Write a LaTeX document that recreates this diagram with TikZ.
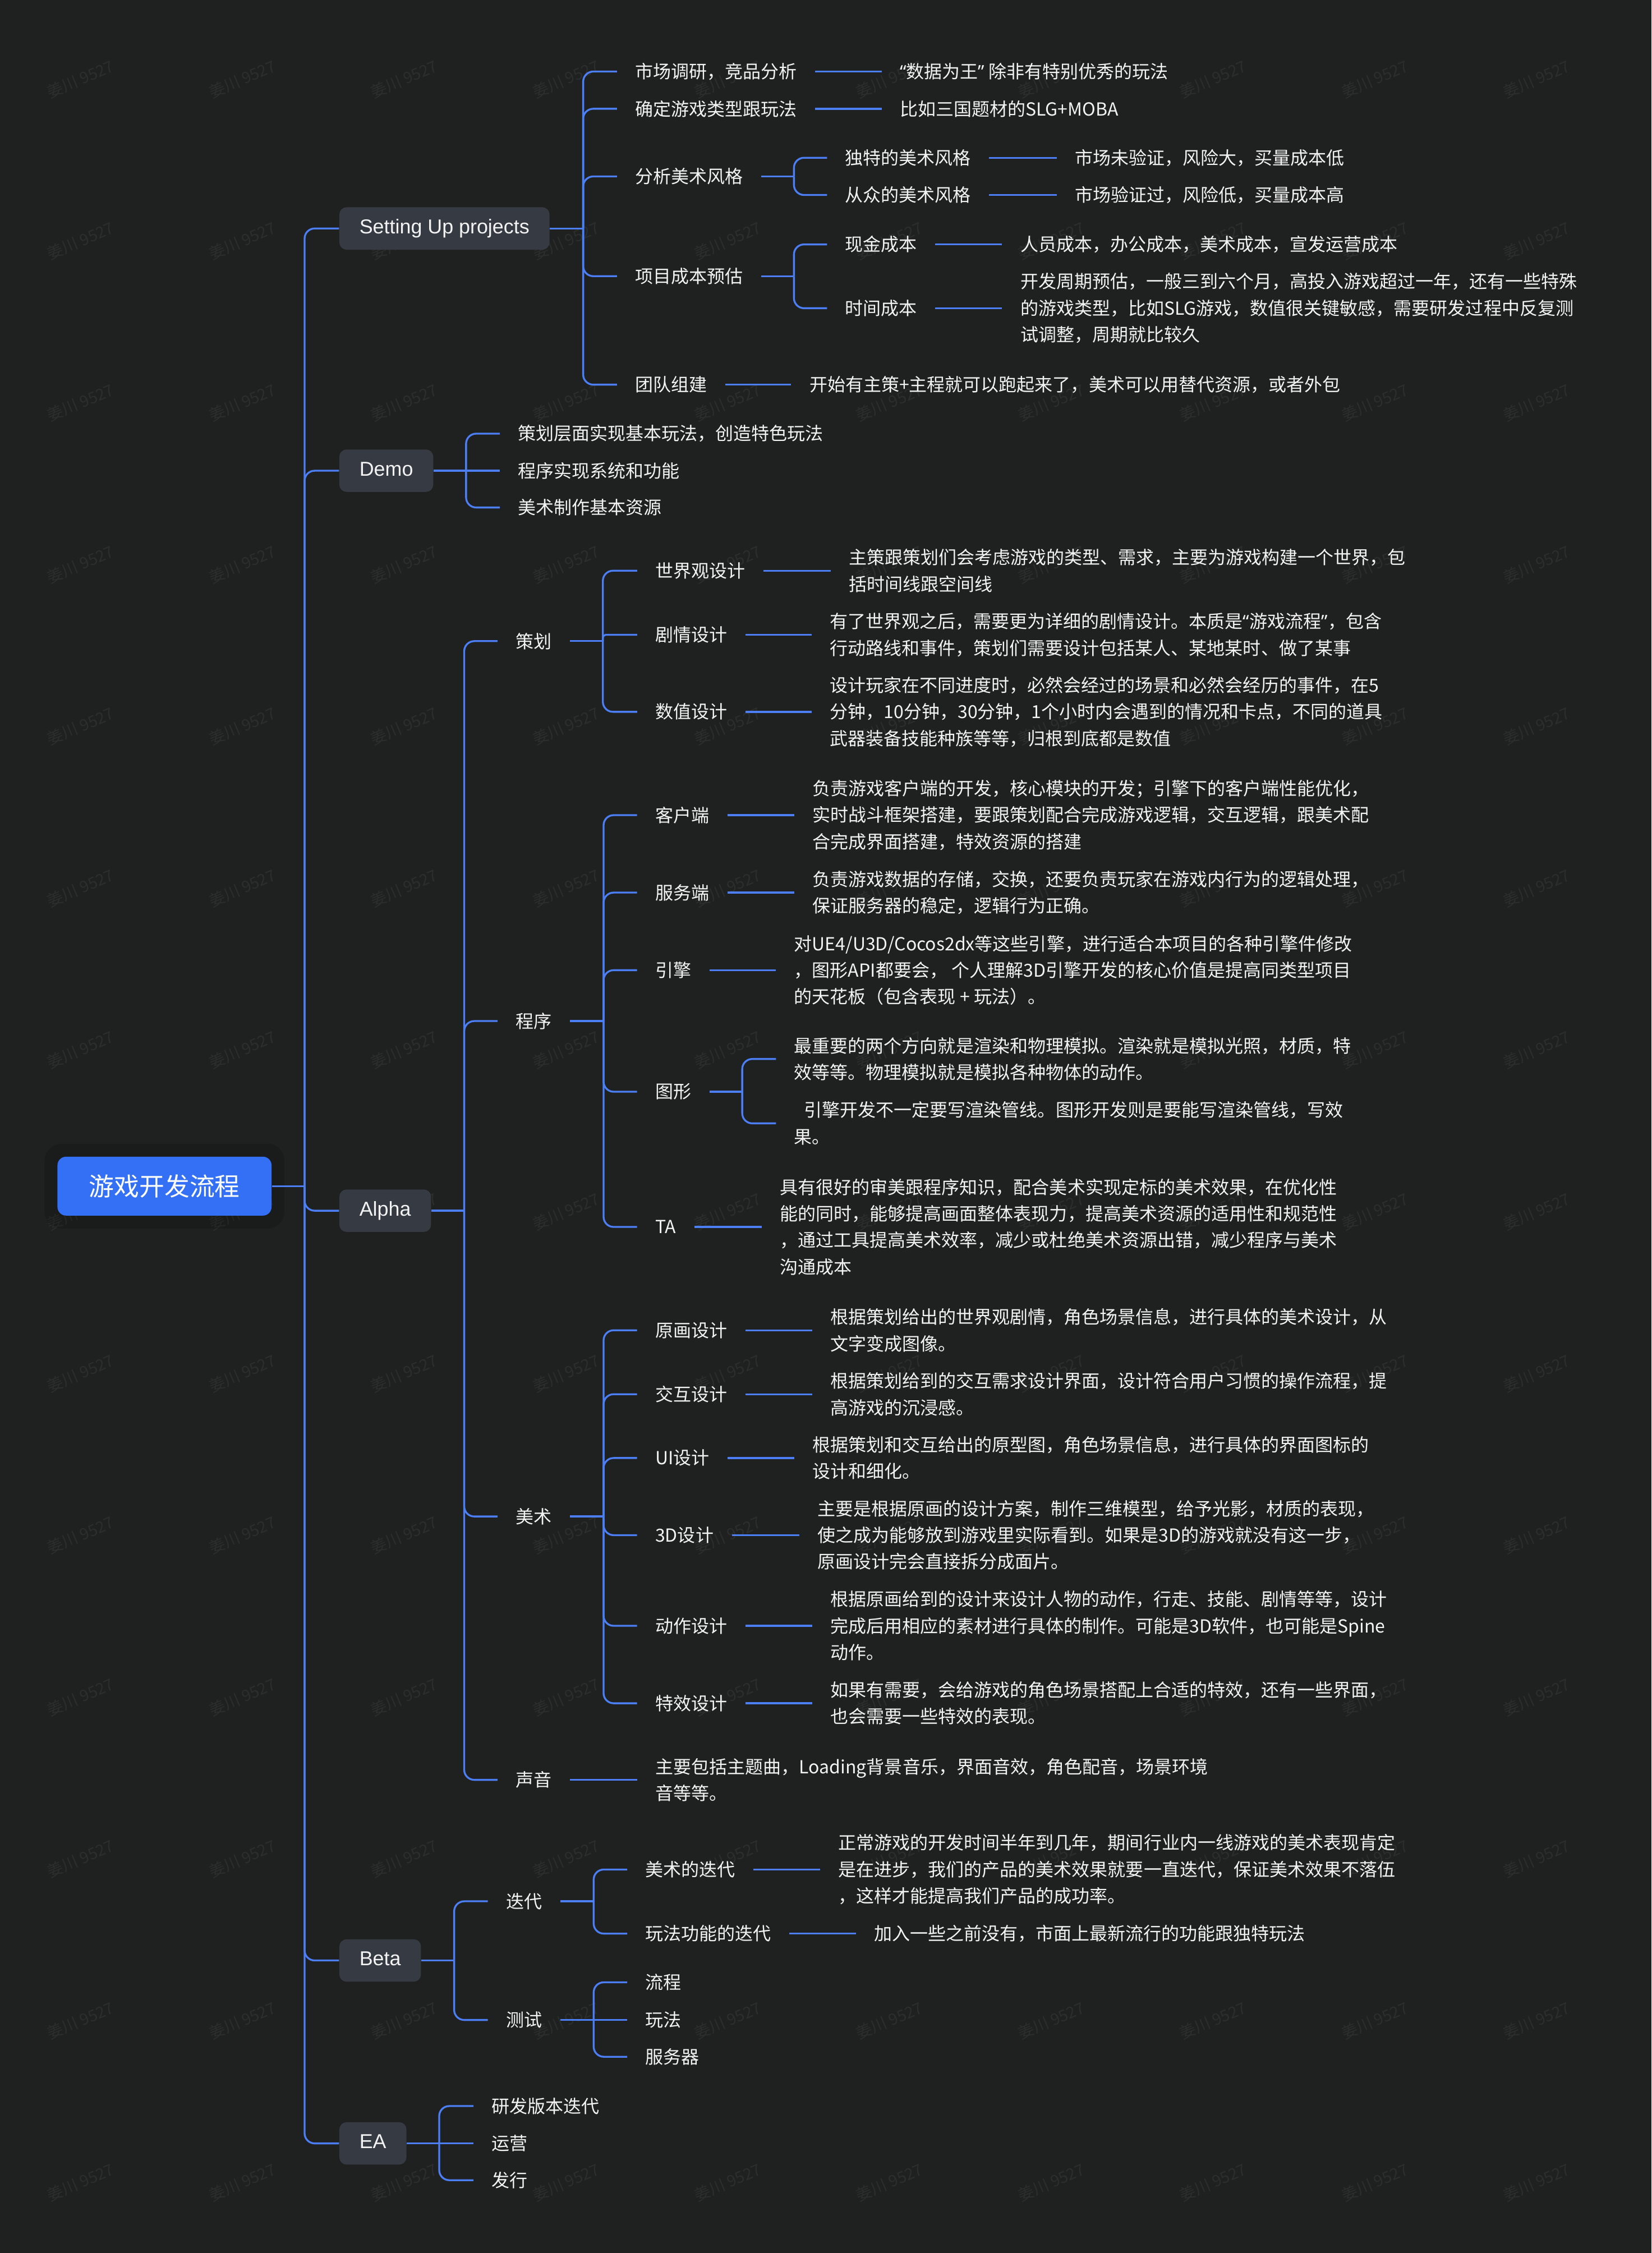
\documentclass[tikz,border=0pt]{standalone}
\usepackage{fontspec}
\newfontfamily\cjk{Noto Sans CJK SC}
\newfontfamily\lat{Liberation Sans}
\newfontfamily\qf{Noto Sans}
\definecolor{bgc}{HTML}{1F2020}
\definecolor{wmc}{HTML}{2C2D2D}
\definecolor{linec}{HTML}{4C7EF5}
\definecolor{rootc}{HTML}{3470F6}
\definecolor{boxc}{HTML}{363B43}
\definecolor{txtc}{HTML}{F3F3F3}
\tikzset{
  conn/.style={draw=linec, line width=1.3pt, rounded corners=7pt},
  tx/.style={anchor=west, inner xsep=12.5pt, inner ysep=0pt, text=txtc, align=left,
    font=\cjk\fontsize{12.5}{18.5}\selectfont},
  lvl/.style={anchor=west, fill=boxc, rounded corners=5pt, text=txtc, inner xsep=14pt,
    inner ysep=0pt, minimum height=29.5pt, text height=10.1pt, text depth=2.9pt,
    font=\lat\fontsize{14}{16}\selectfont},
  rootbox/.style={fill=rootc, rounded corners=6pt, text=white, minimum width=149pt,
    minimum height=41pt, inner sep=0pt, font=\cjk\fontsize{17.5}{20}\selectfont},
  wm/.style={text=wmc, rotate=23, font=\cjk\fontsize{11}{12}\selectfont}
}
\begin{document}
\begin{tikzpicture}[x=1pt,y=-1pt]
\fill[bgc] (0,0) rectangle (1149.45,1568);
\useasboundingbox (0,0) rectangle (1149.45,1568);
% watermark
\foreach \i in {0,...,9}{\foreach \j in {0,...,13}{
  \node[wm] (wm-\i-\j) at ({56+112.6*\i},{55+112.6*\j}) {姜川 9527};}}
% root
\fill[black, opacity=0.15, rounded corners=12pt] (31,796) rectangle (198,855);
\node[rootbox] (root) at (114.5,825.5) {游戏开发流程};
\coordinate (rJ) at (212,825.5);
% level 1
\node[lvl] (su) at (236,159) {Setting Up projects};
\node[lvl] (demo) at (236,327.6) {Demo};
\node[lvl] (alpha) at (236,842.6) {Alpha};
\node[lvl] (beta) at (236,1364.4) {Beta};
\node[lvl] (ea) at (236,1491.7) {EA};
\draw[conn] (root.east) -- (rJ);
\foreach \n in {su,demo,alpha,beta,ea}{\draw[conn] (rJ) |- (\n.west);}

% ---------- Setting Up projects ----------
\coordinate (suJ) at (405.9,159);
\draw[conn] (su.east) -- (suJ);
\node[tx] (s1) at (429.4,49.8) {市场调研，竞品分析};
\node[tx] (s2) at (429.4,75.7) {确定游戏类型跟玩法};
\node[tx] (s3) at (429.4,122.8) {分析美术风格};
\node[tx] (s4) at (429.4,192.2) {项目成本预估};
\node[tx] (s5) at (429.4,267.7) {团队组建};
\foreach \n in {s1,s2,s3,s4,s5}{\draw[conn] (suJ) |- (\n.west);}
\node[tx] (s1d) at (613.6,49.8) {{\qf “}数据为王{\qf ”} 除非有特别优秀的玩法};
\node[tx] (s2d) at (613.6,75.7) {比如三国题材的SLG+MOBA};
\draw[conn] (s1.east) -- (s1d.west);
\draw[conn] (s2.east) -- (s2d.west);
\coordinate (s3J) at (552.6,122.8);
\draw[conn] (s3.east) -- (s3J);
\node[tx] (s3a) at (575.6,109.8) {独特的美术风格};
\node[tx] (s3b) at (575.6,135.7) {从众的美术风格};
\draw[conn] (s3J) |- (s3a.west);
\draw[conn] (s3J) |- (s3b.west);
\node[tx] (s3ad) at (735.5,109.8) {市场未验证，风险大，买量成本低};
\node[tx] (s3bd) at (735.5,135.7) {市场验证过，风险低，买量成本高};
\draw[conn] (s3a.east) -- (s3ad.west);
\draw[conn] (s3b.east) -- (s3bd.west);
\coordinate (s4J) at (552.6,192.2);
\draw[conn] (s4.east) -- (s4J);
\node[tx] (s4a) at (575.6,170.1) {现金成本};
\node[tx] (s4b) at (575.6,214.5) {时间成本};
\draw[conn] (s4J) |- (s4a.west);
\draw[conn] (s4J) |- (s4b.west);
\node[tx] (s4ad) at (697.5,170.1) {人员成本，办公成本，美术成本，宣发运营成本};
\node[tx] (s4bd) at (697.5,214.5) {开发周期预估，一般三到六个月，高投入游戏超过一年，还有一些特殊\\的游戏类型，比如SLG游戏，数值很关键敏感，需要研发过程中反复测\\试调整，周期就比较久};
\draw[conn] (s4a.east) -- (s4ad.west);
\draw[conn] (s4b.east) -- (s4bd.west);
\node[tx] (s5d) at (550.7,267.7) {开始有主策+主程就可以跑起来了，美术可以用替代资源，或者外包};
\draw[conn] (s5.east) -- (s5d.west);

% ---------- Demo ----------
\coordinate (demoJ) at (324.4,327.6);
\draw[conn] (demo.east) -- (demoJ);
\node[tx] (d1) at (347.9,301.8) {策划层面实现基本玩法，创造特色玩法};
\node[tx] (d2) at (347.9,327.6) {程序实现系统和功能};
\node[tx] (d3) at (347.9,353.2) {美术制作基本资源};
\draw[conn] (demoJ) |- (d1.west);
\draw[conn] (demoJ) -- (d2.west);
\draw[conn] (demoJ) |- (d3.west);

% ---------- Alpha ----------
\coordinate (alphaJ) at (323.1,842.6);
\draw[conn] (alpha.east) -- (alphaJ);
\node[tx] (a1) at (346.3,446.2) {策划};
\node[tx] (a2) at (346.3,710.6) {程序};
\node[tx] (a3) at (346.3,1055.4) {美术};
\node[tx] (a4) at (346.3,1238.7) {声音};
\foreach \n in {a1,a2,a3,a4}{\draw[conn] (alphaJ) |- (\n.west);}
% 策划
\coordinate (a1J) at (419.6,446.2);
\draw[conn] (a1.east) -- (a1J);
\node[tx] (a1a) at (443.5,397.2) {世界观设计};
\node[tx] (a1b) at (443.5,441.8) {剧情设计};
\node[tx] (a1c) at (443.5,495.4) {数值设计};
\draw[conn] (a1J) |- (a1a.west);
\draw[conn, rounded corners=2pt] (a1J) |- (a1b.west);
\draw[conn] (a1J) |- (a1c.west);
\node[tx] (a1ad) at (578.1,397.2) {主策跟策划们会考虑游戏的类型、需求，主要为游戏构建一个世界，包\\括时间线跟空间线};
\node[tx] (a1bd) at (565,441.8) {有了世界观之后，需要更为详细的剧情设计。本质是{\qf “}游戏流程{\qf ”}，包含\\行动路线和事件，策划们需要设计包括某人、某地某时、做了某事};
\node[tx] (a1cd) at (565,495.4) {设计玩家在不同进度时，必然会经过的场景和必然会经历的事件，在5\\分钟，10分钟，30分钟，1个小时内会遇到的情况和卡点，不同的道具\\武器装备技能种族等等，归根到底都是数值};
\draw[conn] (a1a.east) -- (a1ad.west);
\draw[conn] (a1b.east) -- (a1bd.west);
\draw[conn] (a1c.east) -- (a1cd.west);
% 程序
\coordinate (a2J) at (420.1,710.6);
\draw[conn] (a2.east) -- (a2J);
\node[tx] (a2a) at (443.4,567.3) {客户端};
\node[tx] (a2b) at (443.4,621.2) {服务端};
\node[tx] (a2c) at (443.4,675.2) {引擎};
\node[tx] (a2d) at (443.4,759.8) {图形};
\node[tx] (a2e) at (443.4,853.9) {TA};
\foreach \n in {a2a,a2b,a2c,a2d,a2e}{\draw[conn] (a2J) |- (\n.west);}
\node[tx] (a2ad) at (552.8,567.3) {负责游戏客户端的开发，核心模块的开发；引擎下的客户端性能优化，\\实时战斗框架搭建，要跟策划配合完成游戏逻辑，交互逻辑，跟美术配\\合完成界面搭建，特效资源的搭建};
\node[tx] (a2bd) at (552.8,621.2) {负责游戏数据的存储，交换，还要负责玩家在游戏内行为的逻辑处理，\\保证服务器的稳定，逻辑行为正确。};
\node[tx] (a2cd) at (540.1,675.2) {对UE4/U3D/Cocos2dx等这些引擎，进行适合本项目的各种引擎件修改\\，图形API都要会， 个人理解3D引擎开发的核心价值是提高同类型项目\\的天花板（包含表现 + 玩法）。};
\draw[conn] (a2a.east) -- (a2ad.west);
\draw[conn] (a2b.east) -- (a2bd.west);
\draw[conn] (a2c.east) -- (a2cd.west);
\coordinate (a2dJ) at (516.6,759.8);
\draw[conn] (a2d.east) -- (a2dJ);
\node[tx] (a2d1) at (540.1,737) {最重要的两个方向就是渲染和物理模拟。渲染就是模拟光照，材质，特\\效等等。物理模拟就是模拟各种物体的动作。};
\node[tx] (a2d2) at (540.1,781.8) {\hspace*{7pt}引擎开发不一定要写渲染管线。图形开发则是要能写渲染管线，写效\\果。};
\draw[conn] (a2dJ) |- (a2d1.west);
\draw[conn] (a2dJ) |- (a2d2.west);
\node[tx] (a2ed) at (530.3,853.9) {具有很好的审美跟程序知识，配合美术实现定标的美术效果，在优化性\\能的同时，能够提高画面整体表现力，提高美术资源的适用性和规范性\\，通过工具提高美术效率，减少或杜绝美术资源出错，减少程序与美术\\沟通成本};
\draw[conn] (a2e.east) -- (a2ed.west);
% 美术
\coordinate (a3J) at (420.1,1055.4);
\draw[conn] (a3.east) -- (a3J);
\node[tx] (a3a) at (443.4,925.8) {原画设计};
\node[tx] (a3b) at (443.4,970.3) {交互设计};
\node[tx] (a3c) at (443.4,1014.7) {UI设计};
\node[tx] (a3d) at (443.4,1068.4) {3D设计};
\node[tx] (a3e) at (443.4,1131.5) {动作设计};
\node[tx] (a3f) at (443.4,1185.4) {特效设计};
\foreach \n in {a3a,a3b,a3c,a3d,a3e,a3f}{\draw[conn] (a3J) |- (\n.west);}
\node[tx] (a3ad) at (565.3,925.8) {根据策划给出的世界观剧情，角色场景信息，进行具体的美术设计，从\\文字变成图像。};
\node[tx] (a3bd) at (565.3,970.3) {根据策划给到的交互需求设计界面，设计符合用户习惯的操作流程，提\\高游戏的沉浸感。};
\node[tx] (a3cd) at (552.8,1014.7) {根据策划和交互给出的原型图，角色场景信息，进行具体的界面图标的\\设计和细化。};
\node[tx] (a3dd) at (556.2,1068.4) {主要是根据原画的设计方案，制作三维模型，给予光影，材质的表现，\\使之成为能够放到游戏里实际看到。如果是3D的游戏就没有这一步，\\原画设计完会直接拆分成面片。};
\node[tx] (a3ed) at (565.3,1131.5) {根据原画给到的设计来设计人物的动作，行走、技能、剧情等等，设计\\完成后用相应的素材进行具体的制作。可能是3D软件，也可能是Spine\\动作。};
\node[tx] (a3fd) at (565.3,1185.4) {如果有需要，会给游戏的角色场景搭配上合适的特效，还有一些界面，\\也会需要一些特效的表现。};
\draw[conn] (a3a.east) -- (a3ad.west);
\draw[conn] (a3b.east) -- (a3bd.west);
\draw[conn] (a3c.east) -- (a3cd.west);
\draw[conn] (a3d.east) -- (a3dd.west);
\draw[conn] (a3e.east) -- (a3ed.west);
\draw[conn] (a3f.east) -- (a3fd.west);
% 声音
\node[tx] (a4d) at (443.6,1238.7) {主要包括主题曲，Loading背景音乐，界面音效，角色配音，场景环境\\音等等。};
\draw[conn] (a4.east) -- (a4d.west);

% ---------- Beta ----------
\coordinate (betaJ) at (316.1,1364.4);
\draw[conn] (beta.east) -- (betaJ);
\node[tx] (b1) at (339.5,1323.2) {迭代};
\node[tx] (b2) at (339.5,1405.8) {测试};
\draw[conn] (betaJ) |- (b1.west);
\draw[conn] (betaJ) |- (b2.west);
\coordinate (b1J) at (413.2,1323.2);
\draw[conn] (b1.east) -- (b1J);
\node[tx] (b1a) at (436.6,1301.1) {美术的迭代};
\node[tx] (b1b) at (436.6,1345.7) {玩法功能的迭代};
\draw[conn] (b1J) |- (b1a.west);
\draw[conn] (b1J) |- (b1b.west);
\node[tx] (b1ad) at (570.9,1301.1) {正常游戏的开发时间半年到几年，期间行业内一线游戏的美术表现肯定\\是在进步，我们的产品的美术效果就要一直迭代，保证美术效果不落伍\\，这样才能提高我们产品的成功率。};
\node[tx] (b1bd) at (595.8,1345.7) {加入一些之前没有，市面上最新流行的功能跟独特玩法};
\draw[conn] (b1a.east) -- (b1ad.west);
\draw[conn] (b1b.east) -- (b1bd.west);
\coordinate (b2J) at (413.2,1405.8);
\draw[conn] (b2.east) -- (b2J);
\node[tx] (b2a) at (436.6,1379.6) {流程};
\node[tx] (b2b) at (436.6,1405.8) {玩法};
\node[tx] (b2c) at (436.6,1431.4) {服务器};
\draw[conn] (b2J) |- (b2a.west);
\draw[conn] (b2J) -- (b2b.west);
\draw[conn] (b2J) |- (b2c.west);

% ---------- EA ----------
\coordinate (eaJ) at (305.7,1491.7);
\draw[conn] (ea.east) -- (eaJ);
\node[tx] (e1) at (329.6,1465.7) {研发版本迭代};
\node[tx] (e2) at (329.6,1491.7) {运营};
\node[tx] (e3) at (329.6,1517.3) {发行};
\draw[conn] (eaJ) |- (e1.west);
\draw[conn] (eaJ) -- (e2.west);
\draw[conn] (eaJ) |- (e3.west);
\end{tikzpicture}
\end{document}
